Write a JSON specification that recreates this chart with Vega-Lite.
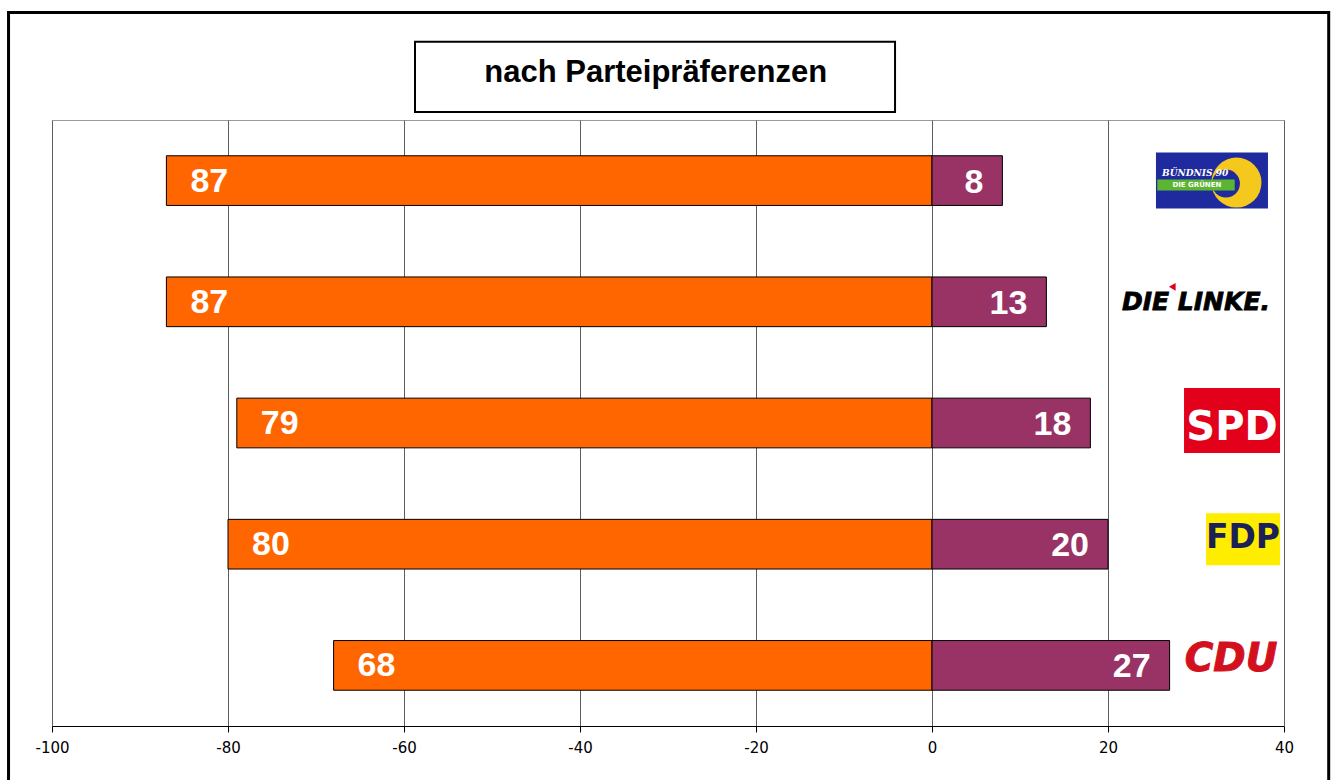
{
  "$schema": "https://vega.github.io/schema/vega-lite/v6.json",
  "width": 1232,
  "height": 606,
  "autosize": {"type": "none"},
  "padding": {"left": 52, "top": 120, "right": 54, "bottom": 54},
  "background": "white",
  "config": {
    "view": {"stroke": "#9a9a9a", "strokeWidth": 1},
    "axis": {"labelFont": "DejaVu Sans"}
  },
  "resolve": {"scale": {"y": "independent"}},
  "layer": [
    {
      "data": {"values": [{}]},
      "layer": [
        {
          "mark": {"type": "rect", "fill": null, "fillOpacity": 0, "stroke": "black", "strokeWidth": 3},
          "encoding": {
            "x": {"datum": -104.94, "type": "quantitative", "scale": {"domain": [-100, 40], "nice": false, "zero": false}},
            "x2": {"datum": 45.08},
            "y": {"datum": 713.5, "type": "quantitative", "scale": {"domain": [0, 606], "nice": false, "zero": false}, "axis": null},
            "y2": {"datum": -90}
          }
        },
        {
          "mark": {"type": "rect", "fill": "white", "stroke": "black", "strokeWidth": 2},
          "encoding": {
            "x": {"datum": -58.75, "type": "quantitative"},
            "x2": {"datum": -4.2},
            "y": {"datum": 684.3, "type": "quantitative", "axis": null},
            "y2": {"datum": 614}
          }
        },
        {
          "mark": {"type": "text", "text": "nach Parteipräferenzen", "font": "Liberation Sans", "fontWeight": "bold", "fontSize": 31, "color": "black", "align": "center", "baseline": "middle"},
          "encoding": {
            "x": {"datum": -31.4, "type": "quantitative"},
            "y": {"datum": 653, "type": "quantitative", "axis": null}
          }
        }
      ]
    },
    {
      "data": {
        "values": [
          {"partei": "Grüne", "seite": "dagegen", "wert": -87, "label": "87"},
          {"partei": "Grüne", "seite": "dafür", "wert": 8, "label": "8"},
          {"partei": "Linke", "seite": "dagegen", "wert": -87, "label": "87"},
          {"partei": "Linke", "seite": "dafür", "wert": 13, "label": "13"},
          {"partei": "SPD", "seite": "dagegen", "wert": -79, "label": "79"},
          {"partei": "SPD", "seite": "dafür", "wert": 18, "label": "18"},
          {"partei": "FDP", "seite": "dagegen", "wert": -80, "label": "80"},
          {"partei": "FDP", "seite": "dafür", "wert": 20, "label": "20"},
          {"partei": "CDU", "seite": "dagegen", "wert": -68, "label": "68"},
          {"partei": "CDU", "seite": "dafür", "wert": 27, "label": "27"}
        ]
      },
      "layer": [
        {
          "mark": {"type": "bar", "stroke": "black", "strokeWidth": 1},
          "encoding": {
            "x": {
              "field": "wert", "type": "quantitative", "title": null,
              "scale": {"domain": [-100, 40], "nice": false, "zero": false},
              "axis": {
                "values": [-100, -80, -60, -40, -20, 0, 20, 40],
                "labelExpr": "datum.value + ''",
                "grid": true, "gridColor": "#5e5e5e", "gridWidth": 1,
                "domainColor": "black", "tickColor": "black", "tickSize": 6,
                "labelFontSize": 15, "labelColor": "black", "labelPadding": 8,
                "labelFlush": false
              }
            },
            "y": {
              "field": "partei", "type": "nominal", "axis": null,
              "scale": {"domain": ["Grüne", "Linke", "SPD", "FDP", "CDU"], "paddingInner": 0.59, "paddingOuter": 0.295}
            },
            "color": {
              "field": "seite", "type": "nominal", "legend": null,
              "scale": {"domain": ["dagegen", "dafür"], "range": ["#FF6600", "#993366"]}
            }
          }
        },
        {
          "transform": [{"filter": "datum.seite === 'dagegen'"}],
          "mark": {"type": "text", "align": "left", "baseline": "middle", "dx": 24, "dy": 1, "font": "Liberation Sans", "fontWeight": "bold", "fontSize": 34, "color": "white"},
          "encoding": {
            "x": {"field": "wert", "type": "quantitative"},
            "y": {"field": "partei", "type": "nominal"},
            "text": {"field": "label"}
          }
        },
        {
          "transform": [{"filter": "datum.seite === 'dafür'"}],
          "mark": {"type": "text", "align": "right", "baseline": "middle", "dx": -19, "dy": 2, "font": "Liberation Sans", "fontWeight": "bold", "fontSize": 34, "color": "white"},
          "encoding": {
            "x": {"field": "wert", "type": "quantitative"},
            "y": {"field": "partei", "type": "nominal"},
            "text": {"field": "label"}
          }
        },
        {
          "data": {"values": [{"partei": "Grüne"}]},
          "layer": [
            {
              "mark": {"type": "bar", "size": 56, "color": "#1f2a9e"},
              "encoding": {
                "x": {"datum": 25.45, "type": "quantitative"}, "x2": {"datum": 38.18},
                "y": {"field": "partei", "type": "nominal"}
              }
            },
            {
              "mark": {"type": "point", "shape": "circle", "filled": true, "opacity": 1, "size": 2500, "color": "#f4c81c", "yOffset": 2},
              "encoding": {
                "x": {"datum": 34.6, "type": "quantitative"},
                "y": {"field": "partei", "type": "nominal"}
              }
            },
            {
              "mark": {"type": "point", "shape": "circle", "filled": true, "opacity": 1, "size": 784, "color": "#1f2a9e", "yOffset": 3},
              "encoding": {
                "x": {"datum": 33.4, "type": "quantitative"},
                "y": {"field": "partei", "type": "nominal"}
              }
            },
            {
              "mark": {"type": "bar", "size": 11, "color": "#5cb531", "yOffset": 4.5},
              "encoding": {
                "x": {"datum": 25.6, "type": "quantitative"}, "x2": {"datum": 34.4},
                "y": {"field": "partei", "type": "nominal"}
              }
            },
            {
              "mark": {"type": "text", "text": "BÜNDNIS 90", "font": "DejaVu Serif", "fontStyle": "italic", "fontWeight": "bold", "fontSize": 9, "color": "white", "align": "center", "baseline": "middle", "dy": -8},
              "encoding": {
                "x": {"datum": 29.9, "type": "quantitative"},
                "y": {"field": "partei", "type": "nominal"}
              }
            },
            {
              "mark": {"type": "text", "text": "DIE GRÜNEN", "font": "DejaVu Sans", "fontWeight": "bold", "fontSize": 7, "color": "white", "align": "center", "baseline": "middle", "dy": 4.5},
              "encoding": {
                "x": {"datum": 30.1, "type": "quantitative"},
                "y": {"field": "partei", "type": "nominal"}
              }
            }
          ]
        },
        {
          "data": {"values": [{"partei": "Linke"}]},
          "layer": [
            {
              "mark": {"type": "text", "text": "DIE LINKE.", "font": "DejaVu Sans", "fontStyle": "italic", "fontWeight": "bold", "fontSize": 25, "color": "black", "align": "center", "baseline": "middle", "dy": 0, "stroke": "black", "strokeWidth": 0.8},
              "encoding": {
                "x": {"datum": 30.0, "type": "quantitative"},
                "y": {"field": "partei", "type": "nominal"}
              }
            },
            {
              "mark": {"type": "point", "shape": "triangle-left", "filled": true, "opacity": 1, "size": 60, "color": "#e2001a", "yOffset": -15},
              "encoding": {
                "x": {"datum": 27.3, "type": "quantitative"},
                "y": {"field": "partei", "type": "nominal"}
              }
            }
          ]
        },
        {
          "data": {"values": [{"partei": "SPD"}]},
          "layer": [
            {
              "mark": {"type": "bar", "size": 65, "color": "#e2001a", "yOffset": -2.5},
              "encoding": {
                "x": {"datum": 28.64, "type": "quantitative"}, "x2": {"datum": 39.55},
                "y": {"field": "partei", "type": "nominal"}
              }
            },
            {
              "mark": {"type": "text", "text": "SPD", "font": "DejaVu Sans", "fontWeight": "bold", "fontSize": 40, "color": "white", "align": "center", "baseline": "middle", "dy": 5},
              "encoding": {
                "x": {"datum": 34.09, "type": "quantitative"},
                "y": {"field": "partei", "type": "nominal"}
              }
            }
          ]
        },
        {
          "data": {"values": [{"partei": "FDP"}]},
          "layer": [
            {
              "mark": {"type": "bar", "size": 52, "color": "#ffed00", "yOffset": -5},
              "encoding": {
                "x": {"datum": 31.14, "type": "quantitative"}, "x2": {"datum": 39.55},
                "y": {"field": "partei", "type": "nominal"}
              }
            },
            {
              "mark": {"type": "text", "text": "FDP", "font": "DejaVu Sans", "fontWeight": "bold", "fontSize": 33, "color": "#1b2157", "align": "center", "baseline": "middle", "dy": -6.5},
              "encoding": {
                "x": {"datum": 35.34, "type": "quantitative"},
                "y": {"field": "partei", "type": "nominal"}
              }
            }
          ]
        },
        {
          "data": {"values": [{"partei": "CDU"}]},
          "mark": {"type": "text", "text": "CDU", "font": "DejaVu Sans", "fontStyle": "italic", "fontWeight": "bold", "fontSize": 39, "color": "#d2101e", "align": "center", "baseline": "middle", "dy": -6, "stroke": "#d2101e", "strokeWidth": 1},
          "encoding": {
            "x": {"datum": 33.98, "type": "quantitative"},
            "y": {"field": "partei", "type": "nominal"}
          }
        }
      ]
    }
  ]
}
